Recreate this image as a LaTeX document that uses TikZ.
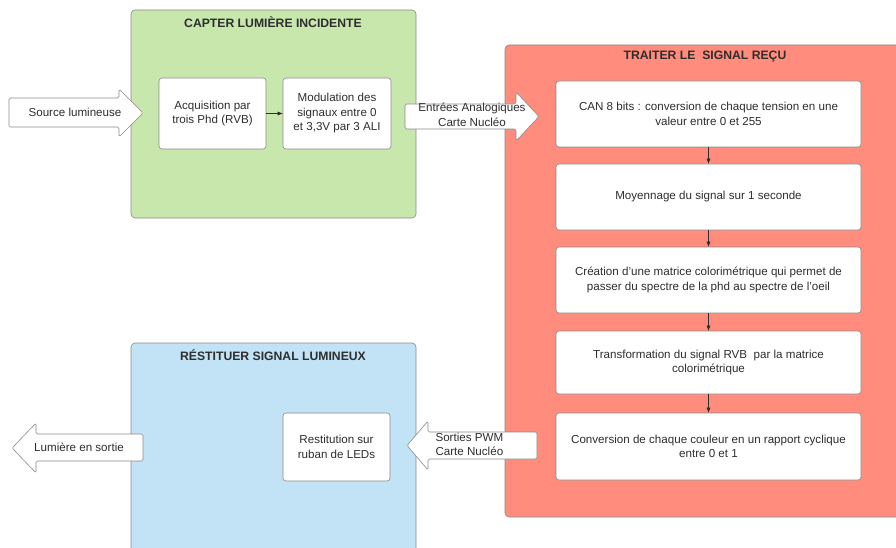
\documentclass[tikz,border=0pt]{standalone}
\usepackage{fontspec}
\setmainfont{Liberation Sans}
\usetikzlibrary{arrows.meta}

\definecolor{vertzone}{HTML}{C7E7AD}
\definecolor{rougezone}{HTML}{FF8C7C}
\definecolor{bleuzone}{HTML}{C2E2F5}
\definecolor{bord}{HTML}{8A8A8A}
\definecolor{texte}{HTML}{2E2E2E}

\tikzset{
  zone/.style={draw=bord, line width=0.6pt, rounded corners=4pt},
  titre/.style={font=\bfseries\fontsize{12.2}{14}\selectfont, text=texte},
  bloc/.style={draw=bord, line width=0.6pt, fill=white, rounded corners=3pt, align=center,
    text=texte, font=\fontsize{11.6}{14.5}\selectfont, inner sep=2pt},
  etiq/.style={text=texte, font=\fontsize{11.6}{14.5}\selectfont},
  fleche/.style={-{Latex[length=5pt,width=4pt]}, draw=texte},
  grosse/.style={draw=bord, line width=0.6pt, fill=white, rounded corners=1.5pt},
}

\begin{document}
\begin{tikzpicture}[x=1pt, y=-1pt]
  \useasboundingbox (0,0) rectangle (896,548);
  % zones
  \draw [zone, fill=vertzone] (131,10) rectangle (416,218);
  \draw [zone, fill=rougezone] (505,45) rectangle (910,517);
  \draw [zone, fill=bleuzone] (131,343) rectangle (416,560);
  \node [titre] (t1) at (273,22) {CAPTER LUMIÈRE INCIDENTE};
  \node [titre] (t2) at (705,57) {TRAITER LE\ \ SIGNAL REÇU};
  \node [titre] (t3) at (273,355) {RÉSTITUER SIGNAL LUMINEUX};

  % capter
  \node [bloc, minimum width=107pt, minimum height=71pt] (acq) at (212.5,113.5) {Acquisition par\\trois Phd (RVB)};
  \node [bloc, minimum width=108pt, minimum height=71pt] (mod) at (337,113.5) {Modulation des\\signaux entre 0\\et 3,3V par 3 ALI};
  \draw [fleche] (acq) -- (mod);

  % traiter
  \node [bloc, minimum width=305pt, minimum height=66pt] (can) at (708.5,114) {CAN 8 bits : conversion de chaque tension en une\\valeur entre 0 et 255};
  \node [bloc, minimum width=305pt, minimum height=66pt] (moy) at (708.5,197) {Moyennage du signal sur 1 seconde};
  \node [bloc, minimum width=305pt, minimum height=66pt] (mat) at (708.5,280) {Création d'une matrice colorimétrique qui permet de\\passer du spectre de la phd au spectre de l'oeil};
  \node [bloc, minimum width=305pt, minimum height=63pt] (rvb) at (708.5,362.5) {Transformation du signal RVB\ \ par la matrice\\colorimétrique};
  \node [bloc, minimum width=305pt, minimum height=67pt] (pwm) at (708.5,446.5) {Conversion de chaque couleur en un rapport cyclique\\entre 0 et 1};
  \draw [fleche] (can) -- (moy);
  \draw [fleche] (moy) -- (mat);
  \draw [fleche] (mat) -- (rvb);
  \draw [fleche] (rvb) -- (pwm);

  % restituer
  \node [bloc, minimum width=107pt, minimum height=68pt] (led) at (336.5,447) {Restitution sur\\ruban de LEDs};

  % grosses fleches
  \draw [grosse] (9,98) -- (119,98) -- (119,89) -- (143,113) -- (119,137) -- (119,127) -- (9,127) -- cycle;
  \node [etiq] (src) at (75,112.5) {Source lumineuse};
  \draw [grosse] (405,104) -- (516,104) -- (516,92) -- (539,116.5) -- (516,141) -- (516,129) -- (405,129) -- cycle;
  \node [etiq, align=center] (ent) at (472,115) {Entrées Analogiques\\Carte Nucléo};
  \draw [grosse] (407,445.5) -- (428,421) -- (428,432) -- (537,432) -- (537,459) -- (428,459) -- (428,470) -- cycle;
  \node [etiq, align=left, anchor=west] (sor) at (432,444.5) {Sorties PWM\\Carte Nucléo};
  \draw [grosse] (12,448) -- (36,423) -- (36,434) -- (143,434) -- (143,461) -- (36,461) -- (36,473) -- cycle;
  \node [etiq] (sortie) at (79,447) {Lumière en sortie};
\end{tikzpicture}
\end{document}
